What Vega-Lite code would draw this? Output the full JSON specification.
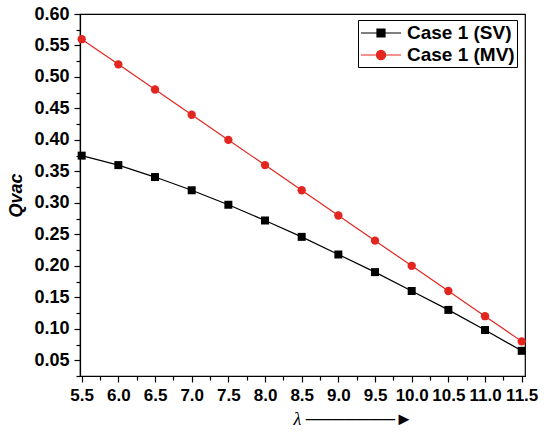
{
  "$schema": "https://vega.github.io/schema/vega-lite/v6.json",
  "width": 445,
  "height": 362,
  "autosize": {"type": "none"},
  "padding": {"left": 80, "top": 14, "right": 23, "bottom": 57},
  "background": "white",
  "config": {
    "view": {"stroke": "black", "strokeWidth": 1.2},
    "font": "Liberation Sans"
  },
  "data": {
    "values": [
      {"lam": 5.5, "Q": 0.375, "series": "Case 1 (SV)"},
      {"lam": 6.0, "Q": 0.360, "series": "Case 1 (SV)"},
      {"lam": 6.5, "Q": 0.341, "series": "Case 1 (SV)"},
      {"lam": 7.0, "Q": 0.320, "series": "Case 1 (SV)"},
      {"lam": 7.5, "Q": 0.297, "series": "Case 1 (SV)"},
      {"lam": 8.0, "Q": 0.272, "series": "Case 1 (SV)"},
      {"lam": 8.5, "Q": 0.246, "series": "Case 1 (SV)"},
      {"lam": 9.0, "Q": 0.218, "series": "Case 1 (SV)"},
      {"lam": 9.5, "Q": 0.190, "series": "Case 1 (SV)"},
      {"lam": 10.0, "Q": 0.160, "series": "Case 1 (SV)"},
      {"lam": 10.5, "Q": 0.130, "series": "Case 1 (SV)"},
      {"lam": 11.0, "Q": 0.098, "series": "Case 1 (SV)"},
      {"lam": 11.5, "Q": 0.065, "series": "Case 1 (SV)"},
      {"lam": 5.5, "Q": 0.56, "series": "Case 1 (MV)"},
      {"lam": 6.0, "Q": 0.52, "series": "Case 1 (MV)"},
      {"lam": 6.5, "Q": 0.48, "series": "Case 1 (MV)"},
      {"lam": 7.0, "Q": 0.44, "series": "Case 1 (MV)"},
      {"lam": 7.5, "Q": 0.40, "series": "Case 1 (MV)"},
      {"lam": 8.0, "Q": 0.36, "series": "Case 1 (MV)"},
      {"lam": 8.5, "Q": 0.32, "series": "Case 1 (MV)"},
      {"lam": 9.0, "Q": 0.28, "series": "Case 1 (MV)"},
      {"lam": 9.5, "Q": 0.24, "series": "Case 1 (MV)"},
      {"lam": 10.0, "Q": 0.20, "series": "Case 1 (MV)"},
      {"lam": 10.5, "Q": 0.16, "series": "Case 1 (MV)"},
      {"lam": 11.0, "Q": 0.12, "series": "Case 1 (MV)"},
      {"lam": 11.5, "Q": 0.08, "series": "Case 1 (MV)"}
    ]
  },
  "encoding": {
    "x": {
      "field": "lam", "type": "quantitative",
      "scale": {"domain": [5.477, 11.545], "nice": false, "zero": false},
      "axis": {
        "values": [5.5,5.75,6,6.25,6.5,6.75,7,7.25,7.5,7.75,8,8.25,8.5,8.75,9,9.25,9.5,9.75,10,10.25,10.5,10.75,11,11.25,11.5],
        "labelExpr": "round(datum.value*100) % 50 === 0 ? format(datum.value, '.1f') : ''",
        "grid": false,
        "domainColor": "black", "domainWidth": 1.2,
        "tickColor": "black", "tickWidth": 1.2,
        "tickSize": {"condition": {"test": "round(datum.value*100) % 50 === 0", "value": 6}, "value": 4},
        "labelFont": "Liberation Sans", "labelFontWeight": "bold", "labelFontSize": 17,
        "labelColor": "black", "labelPadding": 5, "labelFlush": false, "labelOverlap": false,
        "title": "λ ───────►",
        "titleFont": "Liberation Serif", "titleFontStyle": "italic", "titleFontWeight": "normal",
        "titleFontSize": 18, "titleColor": "black",
        "titleAlign": "left", "titleAnchor": "start", "titleX": 213, "titleY": 43, "titleBaseline": "middle"
      }
    },
    "y": {
      "field": "Q", "type": "quantitative",
      "scale": {"domain": [0.025, 0.6], "nice": false, "zero": false},
      "axis": {
        "values": [0.025,0.05,0.075,0.1,0.125,0.15,0.175,0.2,0.225,0.25,0.275,0.3,0.325,0.35,0.375,0.4,0.425,0.45,0.475,0.5,0.525,0.55,0.575,0.6],
        "labelExpr": "round(datum.value*1000) % 50 === 0 ? format(datum.value, '.2f') : ''",
        "grid": false,
        "domainColor": "black", "domainWidth": 1.2,
        "tickColor": "black", "tickWidth": 1.2,
        "tickSize": {"condition": {"test": "round(datum.value*1000) % 50 === 0", "value": 6}, "value": 4},
        "labelFont": "Liberation Sans", "labelFontWeight": "bold", "labelFontSize": 18,
        "labelColor": "black", "labelPadding": 5, "labelFlush": false, "labelOverlap": false,
        "title": "Qvac",
        "titleFont": "Liberation Sans", "titleFontStyle": "italic", "titleFontWeight": "bold",
        "titleFontSize": 18, "titleColor": "black", "titlePadding": 8
      }
    },
    "color": {
      "field": "series", "type": "nominal",
      "scale": {"domain": ["Case 1 (SV)", "Case 1 (MV)"], "range": ["black", "#e3261f"]},
      "legend": {
        "title": null,
        "orient": "none", "legendX": 278, "legendY": 6,
        "strokeColor": "black", "padding": 2, "rowPadding": 1,
        "symbolSize": 400, "symbolStrokeWidth": 1.2, "labelOffset": 25,
        "labelFont": "Liberation Sans", "labelFontWeight": "bold", "labelFontSize": 19, "labelColor": "black",
        "fillColor": "white",
        "encode": {
          "symbols": {
            "enter": {
              "shape": {"signal": "datum.value === 'Case 1 (SV)' ? 'M-1,0H3M0.6,-0.4H1.4V0.4H0.6Z' : 'M-1,0H3M0.54,0A0.46,0.46,0,1,0,1.46,0A0.46,0.46,0,1,0,0.54,0Z'"}
            },
            "update": {
              "shape": {"signal": "datum.value === 'Case 1 (SV)' ? 'M-1,0H3M0.6,-0.4H1.4V0.4H0.6Z' : 'M-1,0H3M0.54,0A0.46,0.46,0,1,0,1.46,0A0.46,0.46,0,1,0,0.54,0Z'"},
              "stroke": {"signal": "datum.value === 'Case 1 (SV)' ? 'black' : '#e3261f'"},
              "fill": {"signal": "datum.value === 'Case 1 (SV)' ? 'black' : '#e3261f'"},
              "strokeWidth": {"value": 1.2},
              "opacity": {"value": 1}
            }
          }
        }
      }
    }
  },
  "layer": [
    {"mark": {"type": "line", "strokeWidth": 1.2}},
    {
      "transform": [{"filter": "datum.series === 'Case 1 (SV)'"}],
      "mark": {"type": "point", "filled": true, "opacity": 1, "shape": "square", "size": 64}
    },
    {
      "transform": [{"filter": "datum.series === 'Case 1 (MV)'"}],
      "mark": {"type": "point", "filled": true, "opacity": 1, "shape": "circle", "size": 70}
    }
  ]
}
